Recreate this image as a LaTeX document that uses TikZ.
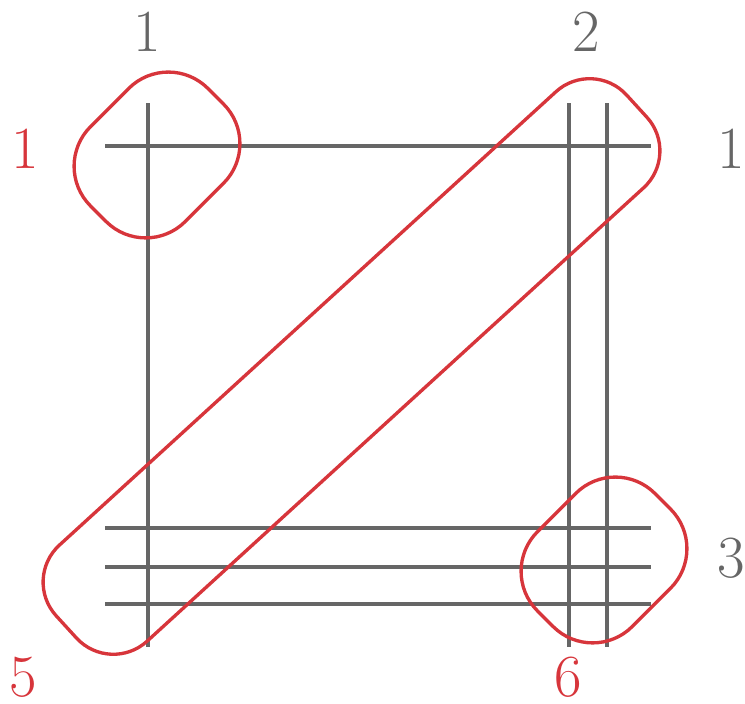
\documentclass[tikz,border=0pt]{standalone}
\usetikzlibrary{positioning}
\definecolor{wiregray}{HTML}{666666}
\definecolor{loopred}{HTML}{D7353B}
\tikzset{
  wire/.style={draw=wiregray, line width=1.2pt},
  loopbox/.style={
    rectangle,
    draw=loopred,
    line width=0.95pt,
    inner sep=0pt
  },
  cornerloop/.style={loopbox, minimum width=1.66cm, minimum height=1.34cm, rounded corners=0.56cm, rotate=45},
  grayno/.style={text=wiregray, inner sep=1pt, font=\fontsize{17}{20}\selectfont},
  redno/.style={text=loopred, inner sep=1pt, font=\fontsize{17}{20}\selectfont}
}

\begin{document}
\begin{tikzpicture}[x=0.01cm, y=0.01cm]
  \useasboundingbox (0,0) rectangle (745,704);

  % grid wires
  \foreach \x in {148,569,607}
    \draw[wire] (\x,57) -- (\x,601);
  \foreach \y in {558,176,137,100}
    \draw[wire] (105,\y) -- (651,\y);

  % loops
  \node[cornerloop] (loopA) at (157,549) {};
  \node[loopbox, minimum width=7.72cm, minimum height=1.3cm, rounded corners=0.5cm, rotate=42.4] (loopB) at (351.5,337.5) {};
  \node[cornerloop] (loopC) at (604,144) {};

  % labels
  \node[grayno] (colA) at (147,672) {1};
  \node[grayno] (colB) at (586,672) {2};
  \node[grayno] (rowA) at (731,555) {1};
  \node[grayno] (rowB) at (731,146) {3};
  \node[redno] (termA) at (25,555) {1};
  \node[redno] (termB) at (23,27) {5};
  \node[redno] (termC) at (568,27) {6};
\end{tikzpicture}
\end{document}
